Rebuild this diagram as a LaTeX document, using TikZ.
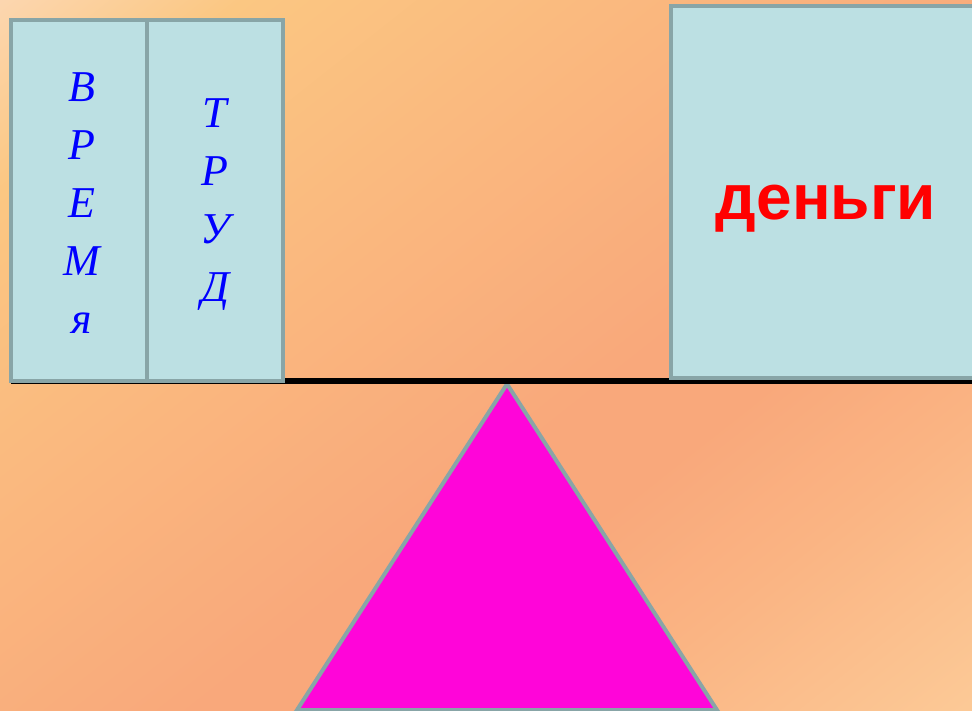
\documentclass[tikz,border=0pt]{standalone}
\usepackage{fontspec}
\setmainfont{Liberation Serif}
\newfontfamily\wordfont{Liberation Sans}
\usepackage{xcolor}
\usetikzlibrary{positioning}
\definecolor{paleblue}{RGB}{188,224,227}
\definecolor{edgegray}{RGB}{136,165,167}
\definecolor{pinkfill}{RGB}{255,5,217}
\definecolor{bgA}{RGB}{252,216,180}
\definecolor{bgB}{RGB}{251,199,130}
\definecolor{bgC}{RGB}{250,186,127}
\definecolor{bgD}{RGB}{249,168,123}
\definecolor{bgE}{RGB}{250,180,131}
\definecolor{bgF}{RGB}{252,203,152}
\pgfdeclarehorizontalshading{bgshade}{100bp}{color(0bp)=(bgA); color(14bp)=(bgA); color(24bp)=(bgB); color(37bp)=(bgC); color(56bp)=(bgD); color(62bp)=(bgD); color(71bp)=(bgE); color(86bp)=(bgF); color(100bp)=(bgF)}
\tikzset{
  panel/.style={rectangle, draw=edgegray, fill=paleblue, line width=3pt, inner sep=0pt},
  letters/.style={text=blue, align=center, font=\itshape\fontsize{33}{43.5}\selectfont},
  word/.style={text=red, font=\wordfont\bfseries\fontsize{48}{58}\selectfont},
  beam/.style={line width=4.5pt, draw=black}
}
\begin{document}
\begin{tikzpicture}[x=0.75pt, y=-0.75pt]
\useasboundingbox (0,0) rectangle (972,711);
\clip (0,0) rectangle (972,711);
\fill[shading=bgshade, shading angle=-51.7] (0,0) rectangle (972,711);
% support
\draw[fill=pinkfill, draw=edgegray, line width=3pt] (507,384) -- (717,710) -- (297,710) -- cycle;
% beam
\coordinate (beamL) at (11,381);
\coordinate (beamR) at (975,381);
\draw[beam] (beamL) -- (beamR);
% left pan
\node[panel, minimum width=102pt, minimum height=270.75pt] (time) at (79,200.5) {};
\node[panel, minimum width=102pt, minimum height=270.75pt] (work) at (215,200.5) {};
\node[letters] (timetext) at (82,203) {В\\Р\\Е\\М\\я};
\node[letters] (worktext) at (215,205) {Т\\Р\\У\\Д};
% right pan
\node[panel, minimum width=228pt, minimum height=279pt] (money) at (823,192) {};
\node[word] (moneytext) at (826,209) {деньги};
\end{tikzpicture}
\end{document}
